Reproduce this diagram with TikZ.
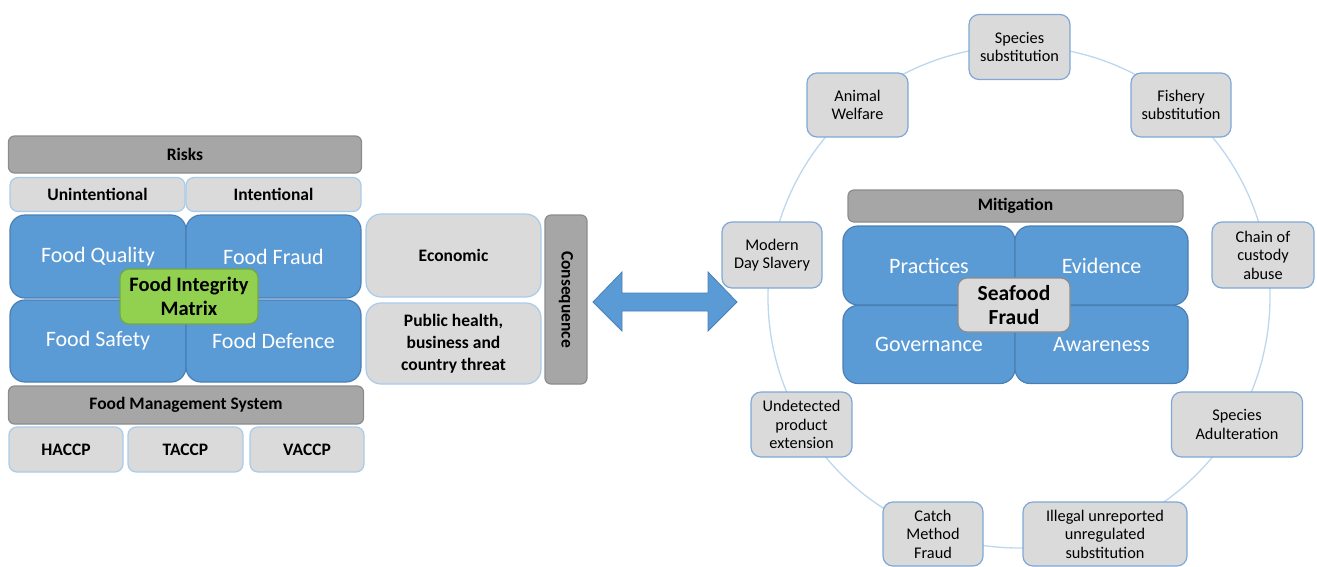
\documentclass[tikz,border=0pt]{standalone}
\usepackage{fontspec}
\setmainfont{Carlito}
\definecolor{bluefill}{HTML}{5B9BD5}
\definecolor{blueedge}{HTML}{4A7FB5}
\definecolor{darkgrayfill}{HTML}{A6A6A6}
\definecolor{darkgrayedge}{HTML}{8C8C8C}
\definecolor{lightgrayfill}{HTML}{DADADA}
\definecolor{paleedge}{HTML}{A9CBEA}
\definecolor{ringedge}{HTML}{7FA8D8}
\definecolor{greenfill}{HTML}{92D050}
\definecolor{greenedge}{HTML}{72A843}
\definecolor{ringline}{HTML}{BDD7EE}
\begin{document}
\begin{tikzpicture}[x=1pt,y=-1pt,
  header/.style={draw=darkgrayedge,fill=darkgrayfill,line width=1.2pt,rounded corners=6pt,
    font=\fontsize{17.5}{20}\selectfont\bfseries,inner sep=0pt},
  sublabel/.style={draw=paleedge,fill=lightgrayfill,line width=1.2pt,rounded corners=8pt,
    font=\fontsize{17.5}{22}\selectfont\bfseries,align=center,inner sep=0pt},
  quadrant/.style={draw=blueedge,fill=bluefill,line width=1.2pt,rounded corners=15pt,
    text=white,font=\fontsize{22}{26}\selectfont,inner sep=0pt},
  centrebox/.style={line width=1.2pt,rounded corners=9pt,
    font=\fontsize{20.5}{24.5}\selectfont\bfseries,align=center,inner sep=0pt},
  ringbox/.style={draw=ringedge,fill=lightgrayfill,line width=1.2pt,rounded corners=10pt,
    font=\fontsize{16.3}{18.5}\selectfont,align=center,inner sep=0pt}]
\useasboundingbox (0,0) rectangle (1317,566);

% ---------- Food integrity matrix ----------
\node[header,minimum width=353,minimum height=37] (risks) at (185,154.5) {Risks};
\node[sublabel,minimum width=175,minimum height=34] (unint) at (97.5,194.5) {Unintentional};
\node[sublabel,minimum width=175,minimum height=34] (intent) at (273.5,194.5) {Intentional};

\node[quadrant,minimum width=176,minimum height=83] (fq) at (98,256.5) {Food Quality};
\node[quadrant,minimum width=175,minimum height=83] (ff) at (273.5,256.5) {Food Fraud};
\node[quadrant,minimum width=176,minimum height=82] (fs) at (98,341) {Food Safety};
\node[quadrant,minimum width=175,minimum height=82] (fd) at (273.5,341) {Food Defence};
\node[centrebox,draw=greenedge,fill=greenfill,minimum width=138,minimum height=55]
  (fim) at (189,296.5) {Food Integrity\\Matrix};

\node[header,minimum width=355,minimum height=38] (fms) at (186,405) {Food Management System};
\node[sublabel,minimum width=114,minimum height=45] (haccp) at (66,449.5) {HACCP};
\node[sublabel,minimum width=115,minimum height=45] (taccp) at (185.5,449.5) {TACCP};
\node[sublabel,minimum width=114,minimum height=45] (vaccp) at (307,449.5) {VACCP};

% ---------- Consequences ----------
\node[sublabel,rounded corners=15pt,minimum width=175,minimum height=83] (econ) at (453.5,255.5) {Economic};
\node[sublabel,rounded corners=15pt,minimum width=175,minimum height=81] (pub) at (453.5,343.5)
  {Public health,\\business and\\country threat};
\node[header,minimum width=42,minimum height=169] (cons) at (566,299.5) {};
\node[rotate=-90,font=\fontsize{17.5}{20}\selectfont\bfseries] at (cons.center) {Consequence};

% ---------- Two-way block arrow ----------
\coordinate (tipL) at (593,302);
\coordinate (tipR) at (737,302);
\filldraw[fill=bluefill,draw=blueedge,line width=0.8pt]
  (tipL) -- (622,272) -- (622,293) -- (708,293) -- (708,272) -- (tipR)
  -- (708,331) -- (708,311) -- (622,311) -- (622,331) -- cycle;

% ---------- Seafood fraud ring ----------
\draw[ringline,line width=1.3pt] (1019,297) circle[radius=251];

\node[header,minimum width=335,minimum height=32] (mitig) at (1015.5,206) {Mitigation};
\node[quadrant,minimum width=172,minimum height=79] (prac) at (929,265.5) {Practices};
\node[quadrant,minimum width=173,minimum height=79] (evid) at (1101.5,265.5) {Evidence};
\node[quadrant,minimum width=172,minimum height=78] (gov) at (929,344.5) {Governance};
\node[quadrant,minimum width=173,minimum height=78] (aware) at (1101.5,344.5) {Awareness};
\node[centrebox,draw=darkgrayedge,fill=lightgrayfill,minimum width=112,minimum height=54,
  font=\fontsize{21.5}{23.5}\selectfont\bfseries] (sff) at (1014,305) {Seafood\\Fraud};

\node[ringbox,minimum width=101,minimum height=65] (spsub) at (1019.5,47) {Species\\substitution};
\node[ringbox,minimum width=100,minimum height=64] (fish) at (1181,105) {Fishery\\substitution};
\node[ringbox,minimum width=102,minimum height=66] (chain) at (1263,255) {Chain of\\custody\\abuse};
\node[ringbox,minimum width=131,minimum height=65] (adult) at (1237,424.5) {Species\\Adulteration};
\node[ringbox,minimum width=164,minimum height=64] (iuu) at (1105,534) {Illegal unreported\\unregulated\\substitution};
\node[ringbox,minimum width=100,minimum height=64] (catch) at (933,534) {Catch\\Method\\Fraud};
\node[ringbox,minimum width=101,minimum height=65] (undet) at (801.5,424.5) {Undetected\\product\\extension};
\node[ringbox,minimum width=100,minimum height=66] (slave) at (772,255) {Modern\\Day Slavery};
\node[ringbox,minimum width=101,minimum height=64] (animal) at (857.5,105) {Animal\\Welfare};
\end{tikzpicture}
\end{document}
